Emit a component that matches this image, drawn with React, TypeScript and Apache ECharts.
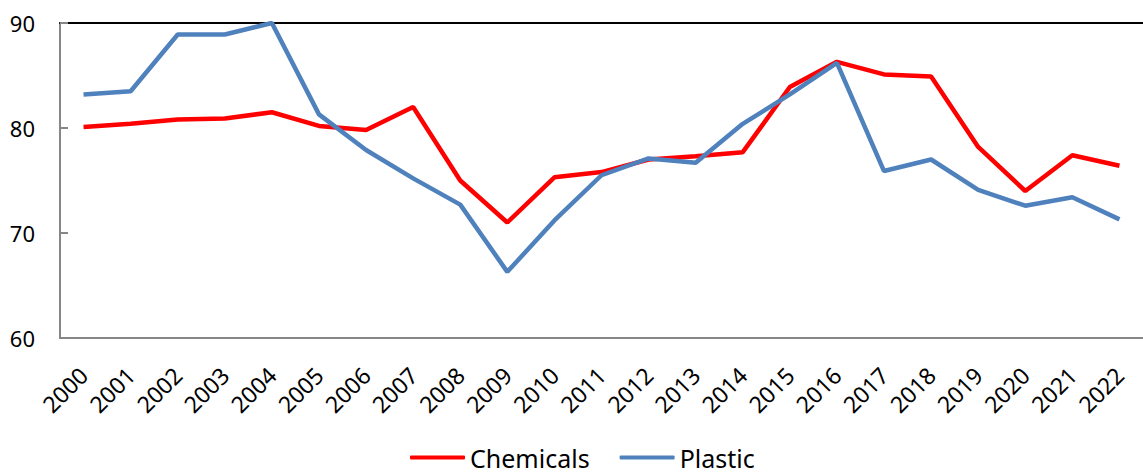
import React, { useEffect, useRef } from "react";
import * as echarts from "echarts";

const years = ["2000","2001","2002","2003","2004","2005","2006","2007","2008","2009","2010","2011","2012","2013","2014","2015","2016","2017","2018","2019","2020","2021","2022"];
const chemicals = [80.1, 80.4, 80.8, 80.9, 81.5, 80.2, 79.8, 82.0, 75.0, 71.0, 75.3, 75.8, 77.0, 77.3, 77.7, 83.9, 86.3, 85.1, 84.9, 78.2, 74.0, 77.4, 76.4];
const plastic = [83.2, 83.5, 88.9, 88.9, 90.0, 81.3, 77.9, 75.2, 72.7, 66.3, 71.2, 75.5, 77.1, 76.7, 80.4, 83.2, 86.2, 75.9, 77.0, 74.1, 72.6, 73.4, 71.3];

const FONT = "Noto Sans";

export default function App() {
  const ref = useRef<HTMLDivElement>(null);
  useEffect(() => {
    document.body.style.margin = "0";
    const chart = echarts.init(ref.current!, null, { renderer: "svg" });
    chart.setOption({
      animation: false,
      textStyle: { fontFamily: FONT },
      grid: { left: 60, top: 23, width: 1093, height: 315, containLabel: false },
      legend: {
        top: 445,
        left: 410,
        padding: 0,
        itemWidth: 55,
        itemHeight: 4,
        itemGap: 30,
        icon: "roundRect",
        textStyle: { fontSize: 25, lineHeight: 22, color: "#000", fontFamily: FONT },
        data: ["Chemicals", "Plastic"],
      },
      xAxis: [
        {
          type: "category",
          data: years,
          boundaryGap: true,
          axisLine: { lineStyle: { color: "#868686", width: 2 } },
          axisTick: { inside: true, length: 7, alignWithLabel: false, lineStyle: { color: "#868686", width: 2 } },
          axisLabel: { rotate: 45, fontSize: 23, color: "#000", margin: 33, interval: 0, fontFamily: FONT },
        },
        {
          type: "category",
          data: years,
          position: "top",
          axisLine: { lineStyle: { color: "#000", width: 2 } },
          axisTick: { show: false },
          axisLabel: { show: false },
        },
      ],
      yAxis: {
        type: "value",
        min: 60,
        max: 90,
        interval: 10,
        axisLine: { show: true, lineStyle: { color: "#868686", width: 2 } },
        axisTick: { show: true, inside: true, length: 8, lineStyle: { color: "#868686", width: 2 } },
        splitLine: { show: false },
        axisLabel: { fontSize: 22, color: "#000", margin: 25, fontFamily: FONT },
      },
      series: [
        {
          name: "Chemicals",
          type: "line",
          data: chemicals,
          symbol: "none",
          lineStyle: { color: "#FF0000", width: 4.5 },
          itemStyle: { color: "#FF0000" },
        },
        {
          name: "Plastic",
          type: "line",
          data: plastic,
          symbol: "none",
          lineStyle: { color: "#4F81BD", width: 4.5 },
          itemStyle: { color: "#4F81BD" },
        },
      ],
    });
    return () => chart.dispose();
  }, []);
  return <div ref={ref} style={{ width: 1143, height: 472 }} />;
}
